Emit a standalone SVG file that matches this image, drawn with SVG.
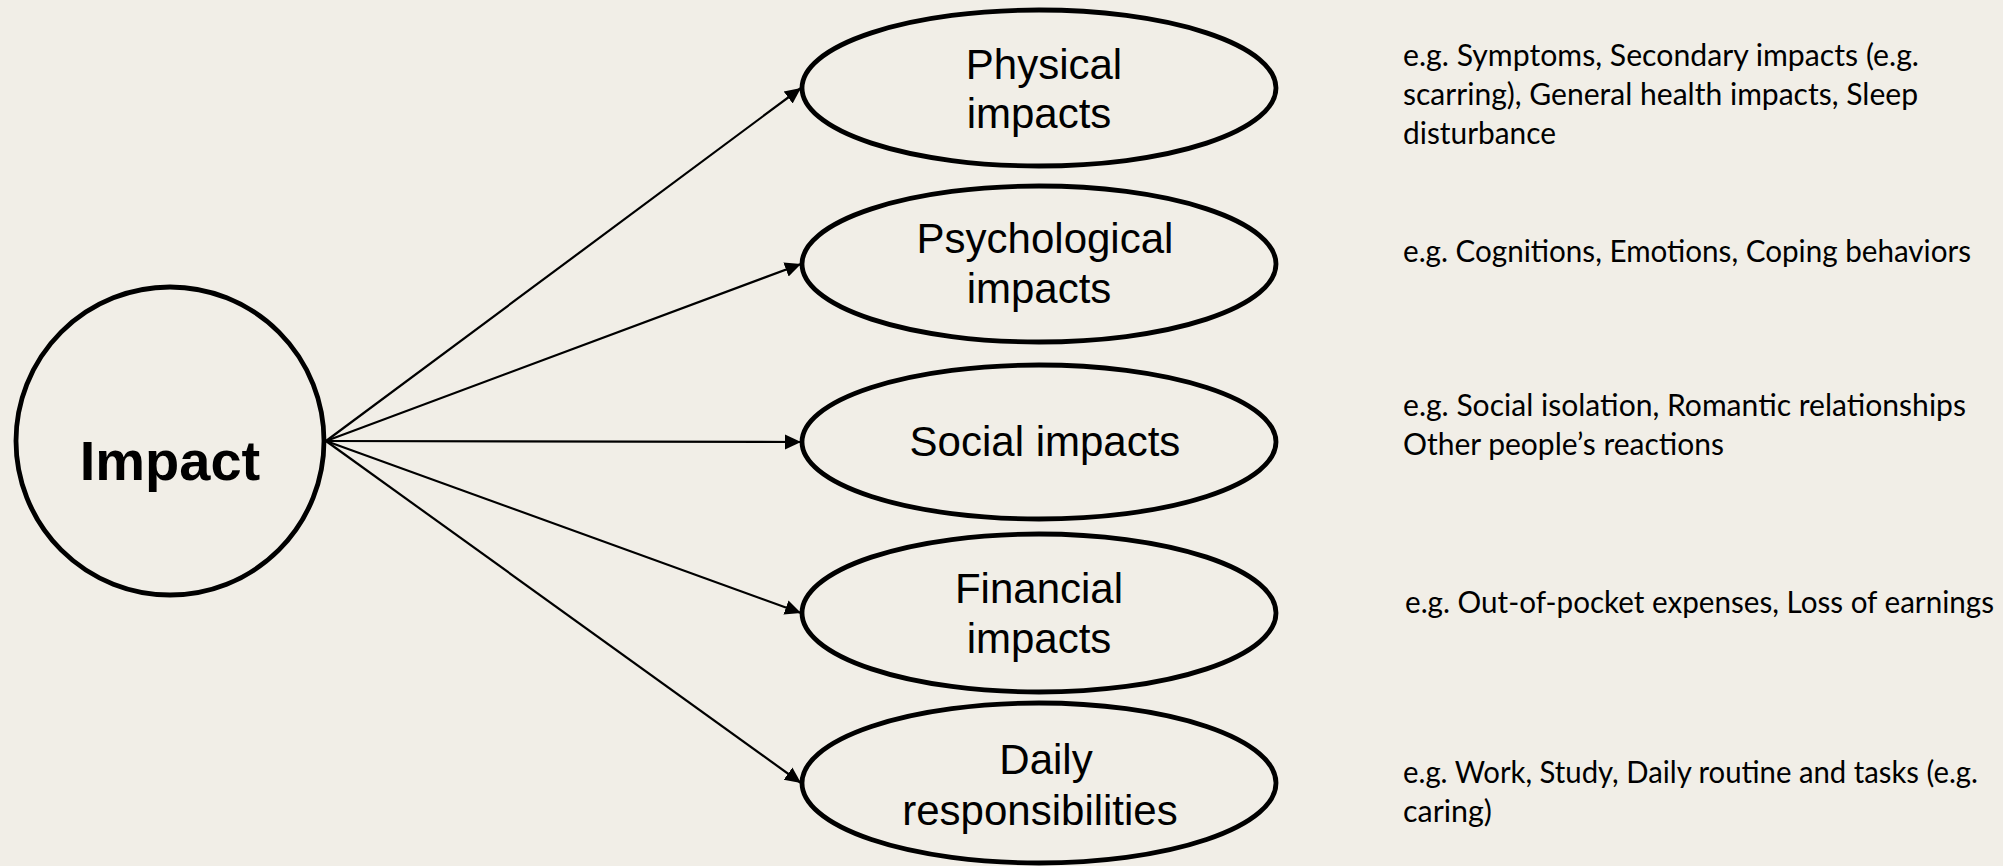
<svg xmlns="http://www.w3.org/2000/svg" width="2003" height="866" viewBox="0 0 2003 866">
<style>
.shape{fill:none;stroke:#000;stroke-width:4.8}
.lbl{font-family:"Liberation Sans",Arial,sans-serif;font-size:42px;fill:#000;text-anchor:middle}
.main{font-family:"Liberation Sans",Arial,sans-serif;font-size:56px;font-weight:bold;fill:#000;text-anchor:middle}
.note{font-family:Lato,"Open Sans",sans-serif;font-size:30px;fill:#000}
.conn{stroke:#000;stroke-width:2.2;fill:none;marker-end:url(#arr)}
</style>
<defs>
<marker id="arr" markerUnits="userSpaceOnUse" markerWidth="18" markerHeight="18" viewBox="0 0 18 18" refX="16" refY="9" orient="auto">
<path d="M0,1.5 L16,9 L0,16.5 z" fill="#000"/>
</marker>
</defs>
<rect x="0" y="0" width="2003" height="866" fill="#f1eee7"/>
<g id="connectors">
<line class="conn" x1="326" y1="441" x2="801" y2="88"/>
<line class="conn" x1="326" y1="441" x2="801" y2="264"/>
<line class="conn" x1="326" y1="441" x2="801" y2="442"/>
<line class="conn" x1="326" y1="441" x2="801" y2="613"/>
<line class="conn" x1="326" y1="441" x2="801" y2="783"/>
</g>
<g id="impact">
<circle class="shape" cx="170" cy="441" r="154"/>
<text class="main" x="170" y="480">Impact</text>
</g>
<g id="physical">
<ellipse class="shape" cx="1039" cy="88" rx="237" ry="78"/>
<text class="lbl" x="1044" y="79">Physical</text>
<text class="lbl" x="1039" y="128">impacts</text>
</g>
<g id="psychological">
<ellipse class="shape" cx="1039" cy="264" rx="237" ry="78"/>
<text class="lbl" x="1045" y="253">Psychological</text>
<text class="lbl" x="1039" y="303">impacts</text>
</g>
<g id="social">
<ellipse class="shape" cx="1039" cy="442" rx="237" ry="77"/>
<text class="lbl" x="1045" y="456">Social impacts</text>
</g>
<g id="financial">
<ellipse class="shape" cx="1039" cy="613" rx="237" ry="79"/>
<text class="lbl" x="1039" y="603">Financial</text>
<text class="lbl" x="1039" y="653">impacts</text>
</g>
<g id="daily">
<ellipse class="shape" cx="1039" cy="783" rx="237" ry="80"/>
<text class="lbl" x="1046" y="774">Daily</text>
<text class="lbl" x="1040" y="825">responsibilities</text>
</g>
<g id="note-physical">
<text class="note" x="1403" y="66" textLength="516" lengthAdjust="spacingAndGlyphs">e.g. Symptoms, Secondary impacts (e.g.</text>
<text class="note" x="1403" y="105" textLength="515" lengthAdjust="spacingAndGlyphs">scarring), General health impacts, Sleep</text>
<text class="note" x="1403" y="144" textLength="153" lengthAdjust="spacingAndGlyphs">disturbance</text>
</g>
<g id="note-psychological">
<text class="note" x="1403" y="262" textLength="568" lengthAdjust="spacingAndGlyphs">e.g. Cognitions, Emotions, Coping behaviors</text>
</g>
<g id="note-social">
<text class="note" x="1403" y="416" textLength="563" lengthAdjust="spacingAndGlyphs">e.g. Social isolation, Romantic relationships</text>
<text class="note" x="1403" y="455" textLength="321" lengthAdjust="spacingAndGlyphs">Other people’s reactions</text>
</g>
<g id="note-financial">
<text class="note" x="1405" y="613" textLength="589" lengthAdjust="spacingAndGlyphs">e.g. Out-of-pocket expenses, Loss of earnings</text>
</g>
<g id="note-daily">
<text class="note" x="1403" y="783" textLength="575" lengthAdjust="spacingAndGlyphs">e.g. Work, Study, Daily routine and tasks (e.g.</text>
<text class="note" x="1403" y="822" textLength="89" lengthAdjust="spacingAndGlyphs">caring)</text>
</g>
</svg>
